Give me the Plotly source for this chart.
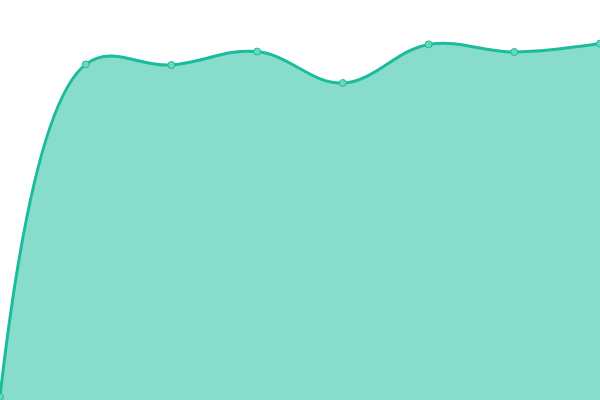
import plotly.graph_objects as go

# x positions of the points and their values
x_vals = [0, 1, 2, 3, 4, 5, 6, 7]
y_vals = [0.8, 83.9, 83.75, 87.1, 79.25, 88.9, 87.0, 89.1]

line_color = "#1ABC9C"

area = go.Scatter(
    x=x_vals, y=y_vals,
    mode="lines+markers",
    line=dict(color=line_color, width=3, shape="spline", smoothing=1.1),
    marker=dict(size=7, color="#6BD6C1", line=dict(color=line_color, width=1)),
    fill="tozeroy",
    fillcolor="rgba(26,188,156,0.52)",
    showlegend=False,
    hoverinfo="skip",
)

fig = go.Figure(data=[area])
fig.update_layout(
    width=600, height=400,
    margin=dict(l=0, r=0, t=0, b=0),
    paper_bgcolor="white", plot_bgcolor="white",
    xaxis=dict(range=[0, 7], visible=False, fixedrange=True),
    yaxis=dict(range=[0, 100], visible=False, fixedrange=True),
)

# drop the default body margin so the chart sits flush in the window
fig.write_html("out.html", config={"displayModeBar": False},
               post_script="document.body.style.margin='0';")
